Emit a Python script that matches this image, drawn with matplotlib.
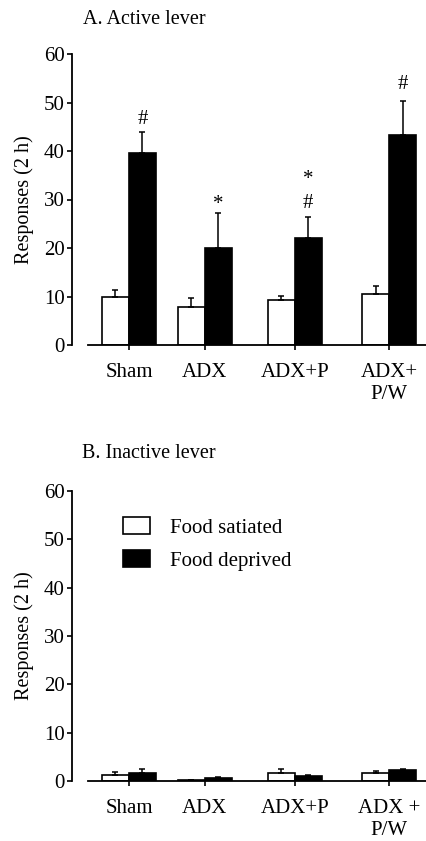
import numpy as np
import matplotlib.pyplot as plt

plt.rcParams['font.family'] = ['Liberation Serif', 'DejaVu Serif']

# data
groups_a = ['Sham', 'ADX', 'ADX+P', 'ADX+\nP/W']
groups_b = ['Sham', 'ADX', 'ADX+P', 'ADX +\nP/W']

active_sat = [10.0, 7.9, 9.3, 10.5]
active_sat_err = [1.3, 1.7, 0.9, 1.7]
active_dep = [39.5, 20.1, 22.1, 43.4]
active_dep_err = [4.5, 7.1, 4.2, 7.0]

inactive_sat = [1.15, 0.3, 1.65, 1.65]
inactive_sat_err = [0.75, 0.0, 0.75, 0.35]
inactive_dep = [1.7, 0.55, 0.95, 2.2]
inactive_dep_err = [0.8, 0.25, 0.35, 0.35]

# significance marks over the deprived bars (label, baseline y)
marks_a = [('#', 45.5), ('*', 28.0), ('#', 28.2), ('*', 33.1), ('#', 52.7)]
marks_a_grp = [0, 1, 2, 2, 3]

# layout
pos = np.array([0, 2.8, 6.14, 9.64])
w = 1.0
FS = 15


def panel(ax, sat, sat_err, dep, dep_err, labels):
    ax.bar(pos - w / 2, sat, w, color='white', edgecolor='black', linewidth=1.2, zorder=2)
    ax.bar(pos + w / 2, dep, w, color='black', edgecolor='black', linewidth=1.2, zorder=2)
    ax.errorbar(pos - w / 2, sat, yerr=[np.zeros(4), sat_err], fmt='none',
                ecolor='black', elinewidth=1.1, capsize=2.5, capthick=1.1, zorder=3)
    ax.errorbar(pos + w / 2, dep, yerr=[np.zeros(4), dep_err], fmt='none',
                ecolor='black', elinewidth=1.1, capsize=2.5, capthick=1.1, zorder=3)
    ax.set_xlim(-2.11, 11.0)
    ax.set_ylim(0, 60)
    ax.set_yticks(np.arange(0, 61, 10))
    ax.set_xticks(pos)
    ax.set_xticklabels(labels, fontsize=FS, linespacing=1.25)
    ax.tick_params(axis='y', direction='out', length=3.8, width=1.2, labelsize=FS, pad=1.5)
    ax.tick_params(axis='x', direction='out', length=3.8, width=1.2, pad=9)
    for s in ['top', 'right']:
        ax.spines[s].set_visible(False)
    ax.spines['left'].set_linewidth(1.3)
    ax.spines['bottom'].set_linewidth(1.3)
    ax.spines['bottom'].set_bounds(-1.52, 11.0)
    ax.set_ylabel('Responses (2 h)', fontsize=14.5)
    ax.yaxis.set_label_coords(-0.107, 0.5)


fig = plt.figure(figsize=(4.26, 8.41), dpi=100)
ax1 = fig.add_axes([72 / 426, 1 - 345 / 841, 1 - 72 / 426, (345 - 54) / 841])
ax2 = fig.add_axes([72 / 426, 1 - 781 / 841, 1 - 72 / 426, (781 - 491) / 841])

panel(ax1, active_sat, active_sat_err, active_dep, active_dep_err, groups_a)
panel(ax2, inactive_sat, inactive_sat_err, inactive_dep, inactive_dep_err, groups_b)

for (txt, yv), g in zip(marks_a, marks_a_grp):
    ax1.text(pos[g] + w / 2, yv, txt, ha='center', va='baseline', fontsize=FS)

fig.text(83 / 426, 1 - 19 / 841, 'A. Active lever', ha='left', va='center', fontsize=14.5)
fig.text(82 / 426, 1 - 453 / 841, 'B. Inactive lever', ha='left', va='center', fontsize=14.5)

h1 = plt.Rectangle((0, 0), 1, 1, facecolor='white', edgecolor='black', linewidth=1.2)
h2 = plt.Rectangle((0, 0), 1, 1, facecolor='black', edgecolor='black', linewidth=1.2)
ax2.legend([h1, h2], ['Food satiated', 'Food deprived'], loc='upper left',
           bbox_to_anchor=(0.092, 0.975), frameon=False, fontsize=FS,
           handlelength=1.3, handleheight=0.87, handletextpad=0.95, labelspacing=0.6)

fig.savefig('out.png', dpi=100)
